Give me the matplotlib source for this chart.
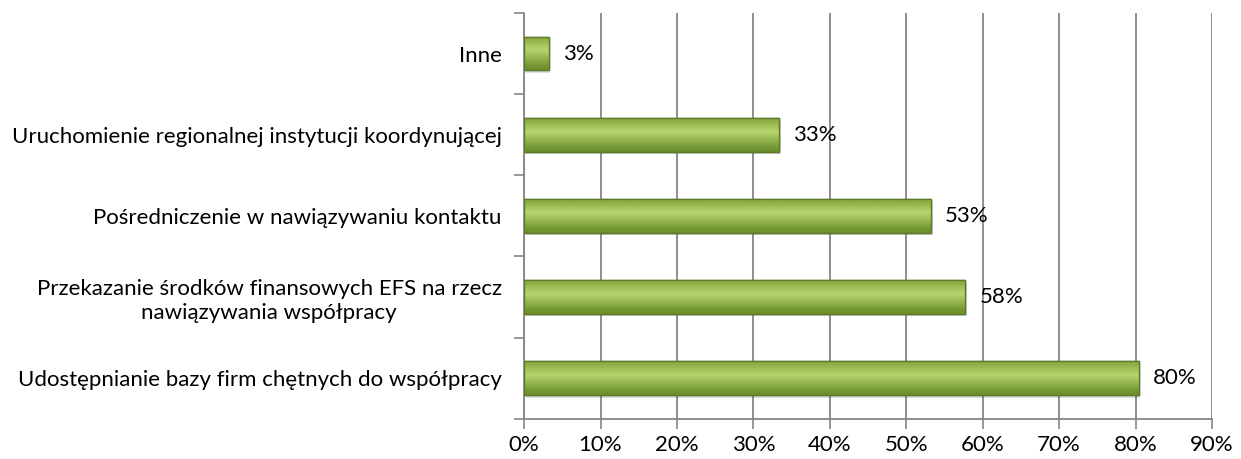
import numpy as np
import matplotlib
matplotlib.use("Agg")
from matplotlib import pyplot as plt
from matplotlib.colors import LinearSegmentedColormap

plt.rcParams["font.family"] = ["Lato", "DejaVu Sans"]

categories = [
    "Udostępnianie bazy firm chętnych do współpracy",
    "Przekazanie środków finansowych EFS na rzecz\nnawiązywania współpracy",
    "Pośredniczenie w nawiązywaniu kontaktu",
    "Uruchomienie regionalnej instytucji koordynującej",
    "Inne",
]
values = [80.4, 57.7, 53.2, 33.3, 3.2]
labels = ["80%", "58%", "53%", "33%", "3%"]
xticks = [0, 10, 20, 30, 40, 50, 60, 70, 80, 90]

fig = plt.figure(figsize=(12.41, 4.59), dpi=100)
ax = fig.add_axes([0.4223, 0.088, 0.5543, 0.883])

y = np.arange(len(categories))
h = 0.41

# soft shadow
ax.barh(y - 0.035, values, height=h, left=0.25, color="#000000", alpha=0.12, zorder=2)
bars = ax.barh(y, values, height=h, color="#9bbb59", edgecolor="#5f7a2a", linewidth=1.0, zorder=3)

# vertical gradient inside each bar
grad = np.array([0.0, 0.15, 0.35, 0.6, 0.8, 1.0]).reshape(-1, 1)
cmap = LinearSegmentedColormap.from_list("g", ["#6e8f2e", "#8cae48", "#a2c25a", "#b6d46e", "#a4c45c", "#8aab42"])
for b in bars:
    x0, y0 = b.get_x(), b.get_y()
    w, hh = b.get_width(), b.get_height()
    im = ax.imshow(grad, extent=[x0, x0 + w, y0, y0 + hh], aspect="auto", cmap=cmap,
                   origin="lower", zorder=3.5, interpolation="bicubic")
    im.set_clip_path(b)
    ax.barh(b.get_y() + hh / 2, w, height=hh, left=x0, fill=False,
            edgecolor="#5f7a2a", linewidth=1.0, zorder=4)

for yi, v, lab in zip(y, values, labels):
    ax.text(v + 1.9, yi, lab, va="center", ha="left", fontsize=16, color="#000000", zorder=5)

ax.set_xlim(0, 90)
ax.set_ylim(-0.5, len(categories) - 0.5)
ax.set_xticks(xticks)
ax.set_xticklabels([f"{t}%" for t in xticks], fontsize=16)
ax.set_yticks(y)
ax.set_yticklabels(categories, fontsize=16, ha="right", multialignment="center", linespacing=1.25)
ax.set_yticks(np.arange(-0.5, len(categories), 1.0), minor=True)
ax.tick_params(axis="y", which="major", length=0, pad=16)
ax.tick_params(axis="y", which="minor", length=7, color="#868686", width=1.2)
ax.tick_params(axis="x", length=7, color="#868686", width=1.2, pad=5)

ax.grid(axis="x", color="#868686", linewidth=1.3, zorder=0)
ax.set_axisbelow(True)
for s in ["top", "right"]:
    ax.spines[s].set_visible(False)
for s in ["left", "bottom"]:
    ax.spines[s].set_color("#868686")
    ax.spines[s].set_linewidth(1.3)

fig.savefig("out.png", dpi=100)
